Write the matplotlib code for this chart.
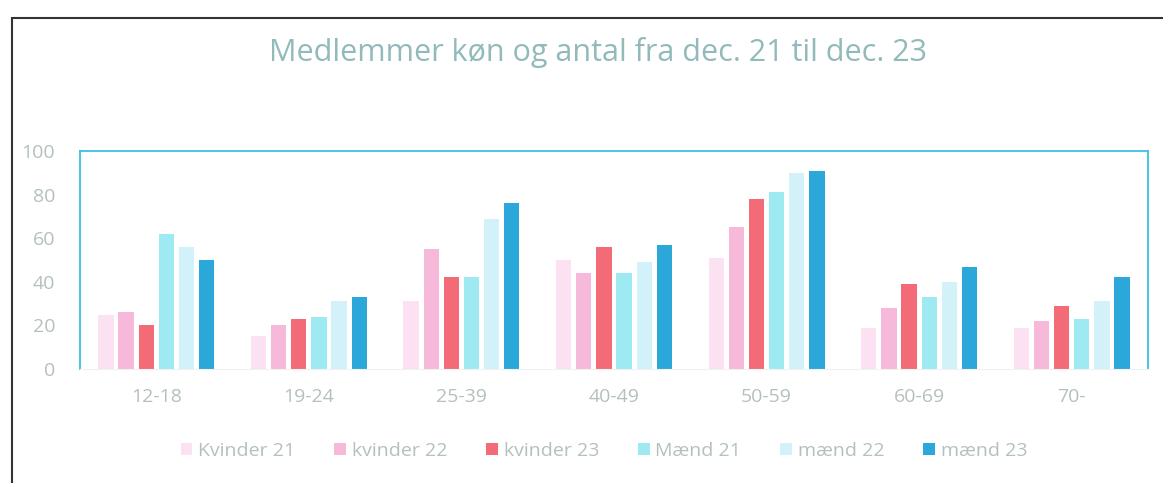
import matplotlib
matplotlib.use("Agg")
import matplotlib.pyplot as plt
from matplotlib.patches import Rectangle
import numpy as np

plt.rcParams['font.family'] = ['Open Sans', 'DejaVu Sans']

# data
ages = ["12-18", "19-24", "25-39", "40-49", "50-59", "60-69", "70-"]
series_names = ["Kvinder 21", "kvinder 22", "kvinder 23", "Mænd 21", "mænd 22", "mænd 23"]
kvinder_21 = [25, 15, 31, 50, 51, 19, 19]
kvinder_22 = [26, 20, 55, 44, 65, 28, 22]
kvinder_23 = [20, 23, 42, 56, 78, 39, 29]
maend_21 = [62, 24, 42, 44, 81, 33, 23]
maend_22 = [56, 31, 69, 49, 90, 40, 31]
maend_23 = [50, 33, 76, 57, 91, 47, 42]
all_series = [kvinder_21, kvinder_22, kvinder_23, maend_21, maend_22, maend_23]
colors = ["#fbe1f1", "#f6b9d9", "#f36b77", "#9eeaf3", "#d3f1f8", "#2ba7d9"]
text_grey = "#b4c0c0"

fig = plt.figure(figsize=(11.63, 4.83), dpi=100)
ax = fig.add_axes([80/1163, 1-369/483, (1148-80)/1163, (369-151)/483])

x = np.arange(len(ages))
step = 0.132
width = 0.1
for i, (vals, c, name) in enumerate(zip(all_series, colors, series_names)):
    ax.bar(x + (i - 2.5) * step, vals, width=width, color=c, label=name)

ax.set_xlim(-0.5, 6.5)
ax.set_ylim(0, 100)
ax.set_yticks([0, 20, 40, 60, 80, 100])
ax.set_xticks(x)
ax.set_xticklabels(ages)
ax.tick_params(length=0, colors=text_grey, labelsize=14)
ax.tick_params(axis="x", pad=14)
ax.tick_params(axis="y", pad=18)
for side in ["top", "left", "right"]:
    ax.spines[side].set_color("#3cc0e6")
    ax.spines[side].set_linewidth(1.3)
ax.spines["bottom"].set_color("#eef2f2")

fig.text(598/1163, 1-52/483, "Medlemmer køn og antal fra dec. 21 til dec. 23",
         ha="center", va="center", fontsize=22, color="#92baba")

leg = fig.legend(loc="center", bbox_to_anchor=(604/1163, 1-451/483), ncol=6,
                 frameon=False, fontsize=14, handlelength=0.6, handleheight=0.6,
                 handletextpad=0.3, columnspacing=2.0)
for t in leg.get_texts():
    t.set_color(text_grey)

# outer frame
fig.patches.append(Rectangle((12/1163, -0.05), 1.1, 1-18/483 + 0.05,
                             transform=fig.transFigure, fill=False,
                             edgecolor="#333333", linewidth=1.5))

fig.savefig("out.png", dpi=100, facecolor="white")
